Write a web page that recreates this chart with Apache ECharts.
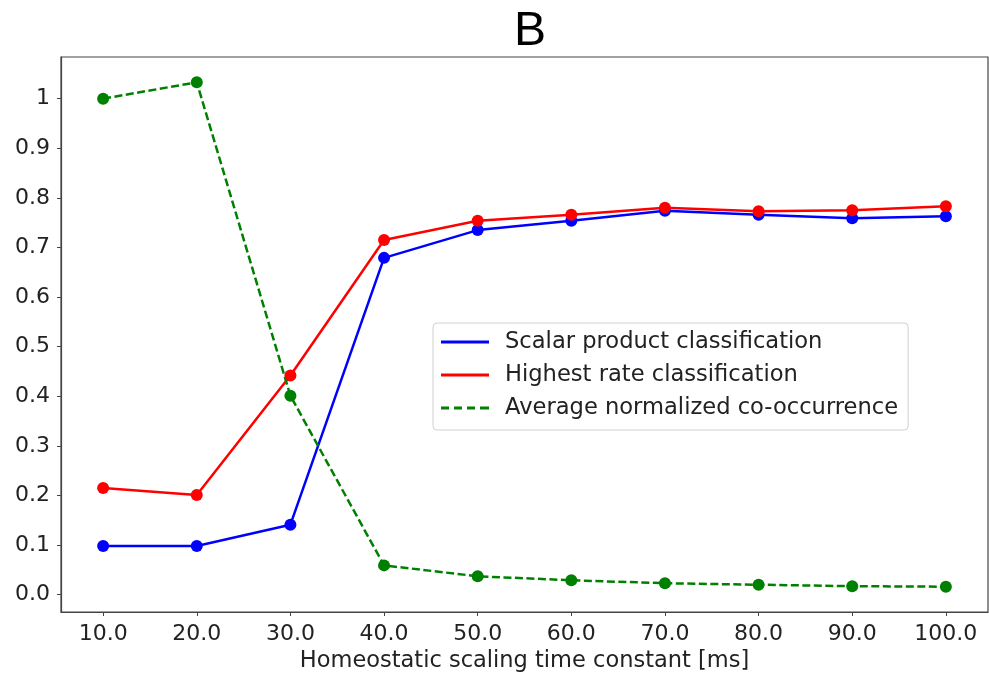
<!DOCTYPE html>
<html>
<head>
<meta charset="utf-8">
<script src="https://cdn.jsdelivr.net/npm/echarts@6/dist/echarts.min.js"></script>
<style>
  html, body { margin: 0; padding: 0; background: #fff; }
  #chart { width: 989px; height: 678px; }
</style>
</head>
<body>
<div id="chart"></div>
<script>
const timeConstants = [10, 20, 30, 40, 50, 60, 70, 80, 90, 100];
const scalarProduct = [0.098, 0.098, 0.141, 0.679, 0.735, 0.754, 0.774, 0.766, 0.759, 0.763];
const highestRate = [0.215, 0.201, 0.442, 0.715, 0.754, 0.766, 0.780, 0.773, 0.775, 0.783];
const coOccurrence = [1.0, 1.033, 0.401, 0.059, 0.037, 0.029, 0.023, 0.020, 0.017, 0.016];
const yTicks = [0, 0.1, 0.2, 0.3, 0.4, 0.5, 0.6, 0.7, 0.8, 0.9, 1];

const chart = echarts.init(document.getElementById("chart"));
const textColor = "#222";
const axisColor = "#444";
const font = "DejaVu Sans";

const solidIcon = "path://M0,0h48v3h-48z";
const dashedIcon = "path://M0,0h8v3h-8z M13,0h8v3h-8z M26,0h8v3h-8z M39,0h8v3h-8z M47,0h1v3h-1z";

function pairs(values) {
  return timeConstants.map((t, i) => [t, values[i]]);
}

const option = {
  backgroundColor: "#fff",
  animation: false,
  title: {
    text: "B",
    left: 525,
    top: 3,
    textAlign: "center",
    textStyle: {
      fontFamily: "Liberation Sans Narrow, Liberation Sans, sans-serif",
      fontWeight: "normal",
      fontSize: 48,
      color: "#000",
    },
  },
  grid: {
    left: 61,
    right: 1,
    top: 57,
    bottom: 65,
    show: true,
    borderColor: axisColor,
    borderWidth: 1.2,
  },
  legend: {
    orient: "vertical",
    left: 433,
    top: 323,
    padding: [7, 10, 10, 8],
    itemWidth: 48,
    itemHeight: 3,
    itemGap: 9,
    backgroundColor: "#fff",
    borderColor: "#d0d0d0",
    borderWidth: 1,
    borderRadius: 4,
    textStyle: {
      fontFamily: font,
      fontSize: 22.6,
      lineHeight: 24,
      color: textColor,
      padding: [0, 0, 0, 11],
    },
    data: [
      { name: "Scalar product classification", icon: solidIcon },
      { name: "Highest rate classification", icon: solidIcon },
      { name: "Average normalized co-occurrence", icon: dashedIcon },
    ],
  },
  xAxis: {
    type: "value",
    min: 5.5,
    max: 104.5,
    name: "Homeostatic scaling time constant [ms]",
    nameLocation: "middle",
    nameGap: 38,
    nameTextStyle: { fontFamily: font, fontSize: 22.5, color: textColor },
    splitLine: { show: false },
    axisLine: { onZero: false, lineStyle: { color: axisColor, width: 1.2 } },
    axisTick: {
      show: true,
      length: 4,
      customValues: timeConstants,
      lineStyle: { color: axisColor },
    },
    axisLabel: {
      customValues: timeConstants,
      margin: 11,
      fontFamily: font,
      fontSize: 22,
      color: textColor,
      formatter: (v) => v.toFixed(1),
    },
  },
  yAxis: {
    type: "value",
    min: -0.035,
    max: 1.084,
    splitLine: { show: false },
    axisLine: { show: true, onZero: false, lineStyle: { color: axisColor, width: 1.2 } },
    axisTick: {
      show: true,
      length: 4,
      customValues: yTicks,
      lineStyle: { color: axisColor },
    },
    axisLabel: {
      customValues: yTicks,
      margin: 11,
      fontFamily: font,
      fontSize: 22,
      color: textColor,
      formatter: (v) => (v === 1 ? "1" : v.toFixed(1)),
    },
  },
  series: [
    {
      name: "Scalar product classification",
      type: "line",
      data: pairs(scalarProduct),
      symbol: "circle",
      symbolSize: 12,
      color: "#0000ff",
      lineStyle: { width: 2.5, color: "#0000ff" },
      itemStyle: { color: "#0000ff" },
    },
    {
      name: "Highest rate classification",
      type: "line",
      data: pairs(highestRate),
      symbol: "circle",
      symbolSize: 12,
      color: "#ff0000",
      lineStyle: { width: 2.5, color: "#ff0000" },
      itemStyle: { color: "#ff0000" },
    },
    {
      name: "Average normalized co-occurrence",
      type: "line",
      data: pairs(coOccurrence),
      symbol: "circle",
      symbolSize: 12,
      color: "#008000",
      lineStyle: { width: 2.5, color: "#008000", type: [8, 3.5] },
      itemStyle: { color: "#008000" },
    },
  ],
};

chart.setOption(option);
</script>
</body>
</html>
